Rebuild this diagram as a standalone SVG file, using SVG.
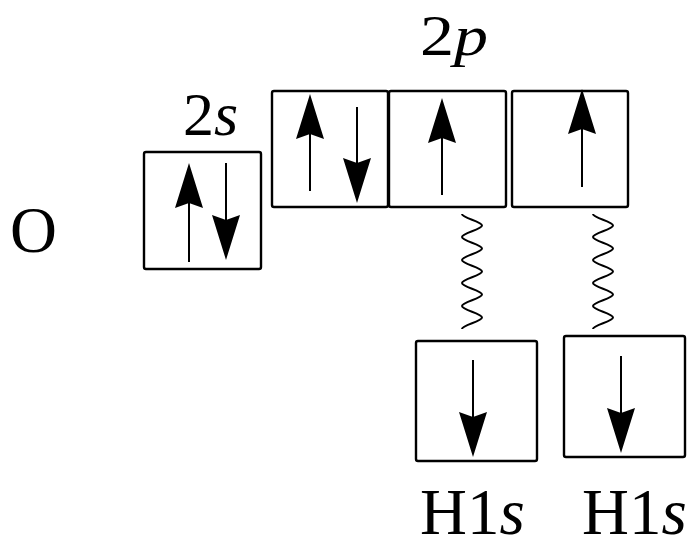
<svg xmlns="http://www.w3.org/2000/svg" xmlns:xlink="http://www.w3.org/1999/xlink" width="695" height="540" viewBox="0 0 695 540">
<style>
.box{fill:#fff;stroke:#000;stroke-width:2.4}
.shaft{stroke:#000;stroke-width:2;fill:none}
.wave{stroke:#000;stroke-width:2;fill:none}
.hd{fill:#000}
.it{font-style:italic}
.t{font-family:'Liberation Serif','Times New Roman',Times,serif}
</style>
<defs>
<path id="hd" class="hd" d="M0,0 L14,45 L0,40 L-14,45 Z"/>
</defs>
<rect width="695" height="540" fill="#fff"/>
<g id="label-O"><text class="t" x="10" y="252" font-size="65">O</text></g>
<g id="orb-2s">
<rect class="box" x="144" y="152" width="117" height="117" rx="2"/>
<line class="shaft" x1="189" y1="262" x2="189" y2="200"/>
<use xlink:href="#hd" transform="translate(189,163)"/>
<line class="shaft" x1="226" y1="163" x2="226" y2="222"/>
<use xlink:href="#hd" transform="translate(226,260) rotate(180)"/>
<text class="t" x="183" y="135" font-size="62">2<tspan class="it">s</tspan></text>
</g>
<g id="orb-2p1">
<rect class="box" x="272" y="91" width="116" height="116" rx="2"/>
<line class="shaft" x1="310" y1="191" x2="310" y2="132"/>
<use xlink:href="#hd" transform="translate(310,94)"/>
<line class="shaft" x1="357" y1="107" x2="357" y2="165"/>
<use xlink:href="#hd" transform="translate(357,203) rotate(180)"/>
</g>
<g id="orb-2p2">
<rect class="box" x="389" y="91" width="117" height="116" rx="2"/>
<line class="shaft" x1="442" y1="195" x2="442" y2="136"/>
<use xlink:href="#hd" transform="translate(442,98)"/>
</g>
<g id="orb-2p3">
<rect class="box" x="512" y="91" width="116" height="116" rx="2"/>
<line class="shaft" x1="582" y1="187" x2="582" y2="127"/>
<use xlink:href="#hd" transform="translate(582,89)"/>
</g>
<g id="label-2p"><text class="t" x="420" y="55" font-size="57" textLength="68" lengthAdjust="spacingAndGlyphs">2<tspan class="it">p</tspan></text></g>
<g id="orb-H1">
<rect class="box" x="416" y="341" width="121" height="120" rx="2"/>
<line class="shaft" x1="473" y1="360" x2="473" y2="419"/>
<use xlink:href="#hd" transform="translate(473,457) rotate(180)"/>
<text class="t" x="420" y="534" font-size="65">H1<tspan class="it">s</tspan></text>
</g>
<g id="orb-H2">
<rect class="box" x="564" y="336" width="121" height="121" rx="2"/>
<line class="shaft" x1="621" y1="356" x2="621" y2="415"/>
<use xlink:href="#hd" transform="translate(621,453) rotate(180)"/>
<text class="t" x="582" y="534" font-size="65">H1<tspan class="it">s</tspan></text>
</g>
<g id="connectors">
<path class="wave" d="M462,214 C462,218 482,221.5 482,225.5 S462,233 462,237 S482,244.5 482,248.5 S462,256 462,260 S482,267.5 482,271.5 S462,279 462,283 S482,290.5 482,294.5 S462,302 462,306 S482,313.5 482,317.5 S462,325 462,329"/>
<path class="wave" d="M593,214 C593,218 613,221.5 613,225.5 S593,233 593,237 S613,244.5 613,248.5 S593,256 593,260 S613,267.5 613,271.5 S593,279 593,283 S613,290.5 613,294.5 S593,302 593,306 S613,313.5 613,317.5 S593,325 593,329"/>
</g>
</svg>
